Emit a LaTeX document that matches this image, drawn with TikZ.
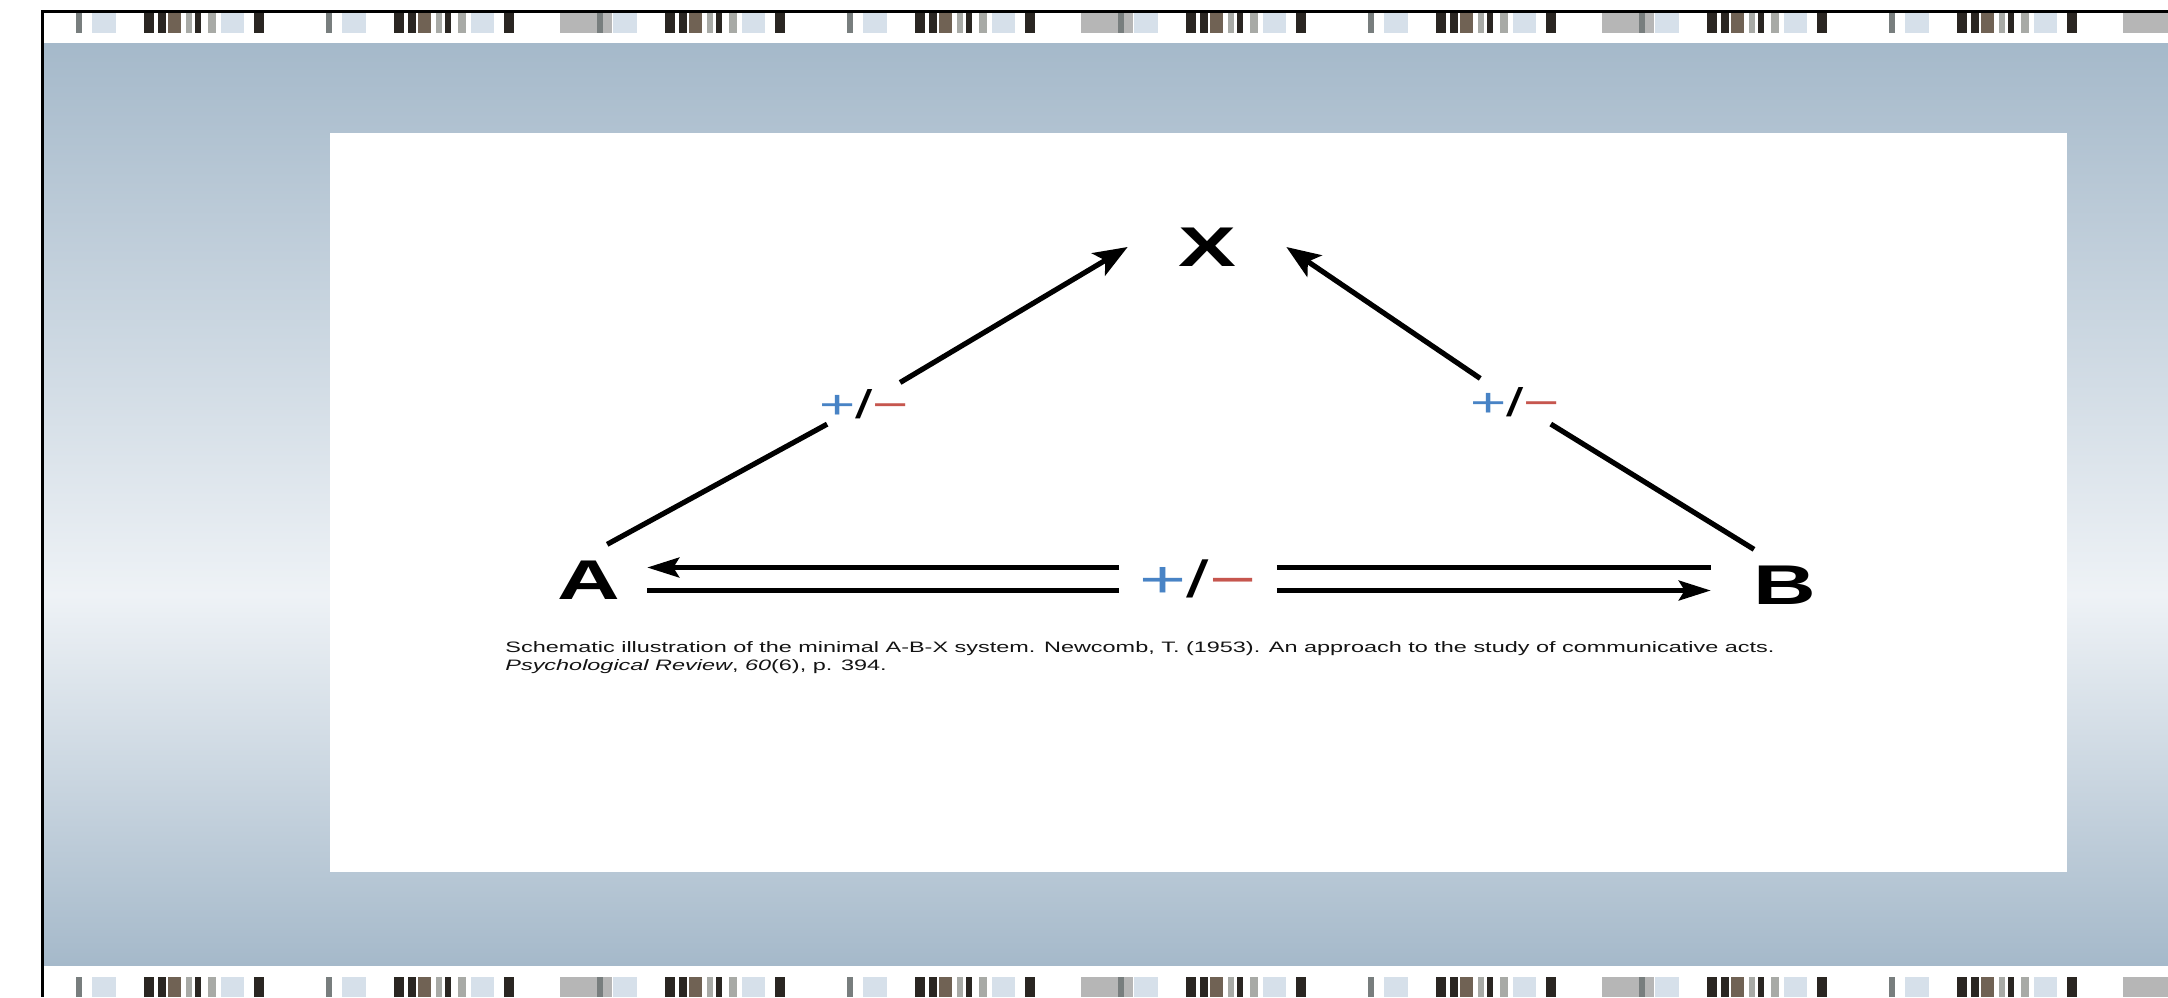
\documentclass[tikz,border=0pt]{standalone}
\usepackage{fontspec}
\setmainfont{Liberation Sans}
\usepackage{graphicx}
\usetikzlibrary{arrows.meta}
\usetikzlibrary{positioning}
\definecolor{panelblue}  {RGB}{165,185,202}
\definecolor{panelglow}  {RGB}{238,242,246}
\definecolor{signplus}   {RGB}{72,131,197}
\definecolor{signminus}  {RGB}{198,86,78}
\definecolor{captiongray}{RGB}{20,20,20}
\definecolor{barthin}    {RGB}{120,126,126}
\definecolor{barpale}    {RGB}{214,224,234}
\definecolor{bardark}    {RGB}{42,38,34}
\definecolor{barbrown}   {RGB}{112,98,84}
\definecolor{barsilver}  {RGB}{168,170,166}
\definecolor{barblock}   {RGB}{182,182,182}
\newcommand{\stretched}[1]{\scalebox{1.55}[1]{#1}}
\newcommand{\plusminus}{\textcolor{signplus}{+}/\textcolor{signminus}{−}}
\tikzset{agent/.style={
    font=\fontsize{28pt}{30pt}\selectfont\bfseries,
    inner ysep=8pt
}}
\tikzset{sign/.style={
    circle, inner sep=0pt, outer sep=-2.5pt,
    font=\fontsize{20pt}{22pt}\selectfont
}}
\tikzset{mutual sign/.style={
    rectangle, inner sep=0pt,
    minimum width=78.5pt,
    font=\fontsize{26pt}{28pt}\selectfont
}}
\tikzset{caption text/.style={
    inner sep=0pt, text=captiongray,
    font=\fontsize{7.56pt}{9pt}\selectfont
}}
\tikzset{slant link/.style={
    line width=2.6pt
}}
\tikzset{flat link/.style={
    line width=2.1pt
}}
\tikzset{slant tip/.style={-{Stealth[length=17pt,width=13pt,inset=4pt]}}}
\tikzset{flat tip/.style={-{Stealth[length=16pt,width=10pt,inset=3pt]}}}

\begin{document}
\begin{tikzpicture}[x=0.5pt, y=-0.5pt]
    \useasboundingbox (0,0) rectangle (2168,997);

    % backdrop
    \shade [top color=panelblue, bottom color=panelglow] (44,43) rectangle (2168,595);
    \shade [top color=panelglow, bottom color=panelblue] (44,595) rectangle (2168,965);
    \fill [white] (330,133) rectangle (2067,872);
    \draw [line width=1.5pt] (2168,11.5) -- (42.5,11.5) -- (42.5,997);

    % film strips
    \foreach \ya/\yb in {13/33,977/997}
      \foreach \s in {0,...,3} {
        \foreach \u in {0,250} {
          \begin{scope}[shift={(76+521*\s+\u,0)}]
            \fill [barthin]   (0,\ya)   rectangle (6,\yb);
            \fill [barpale]   (16,\ya)  rectangle (40,\yb);
            \fill [bardark]   (68,\ya)  rectangle (78,\yb);
            \fill [bardark]   (82,\ya)  rectangle (90,\yb);
            \fill [barbrown]  (92,\ya)  rectangle (105,\yb);
            \fill [barsilver] (110,\ya) rectangle (116,\yb);
            \fill [bardark]   (119,\ya) rectangle (125,\yb);
            \fill [barsilver] (132,\ya) rectangle (140,\yb);
            \fill [barpale]   (145,\ya) rectangle (168,\yb);
            \fill [bardark]   (178,\ya) rectangle (188,\yb);
          \end{scope}
        }
        \fill [barblock] (76+521*\s+484,\ya) rectangle (76+521*\s+536,\yb);
      }

    \node (X)  [agent, inner xsep=25pt]   at (1207,247) {\stretched{X}};
    \node (A)  [agent, inner xsep=13.3pt] at (589,580)  {\stretched{A}};
    \node (B)  [agent, inner xsep=21.3pt] at (1785,585) {\stretched{B}};

    \node (ax) [sign]        at (864,404)  {\stretched{\plusminus}};
    \node (bx) [sign]        at (1515,402) {\stretched{\plusminus}};
    \node (ab) [mutual sign] at (1198,579) {\stretched{\plusminus}};

    \node (cap1) [caption text, anchor=base west] at (505,652)
      {\stretched{Schematic illustration of the minimal A-B-X system. Newcomb, T. (1953). An approach to the study of communicative acts.}};
    \node (cap2) [caption text, below right=2pt and 0pt of cap1.south west]
      {\stretched{\textit{Psychological Review}, \textit{60}(6), p. 394.}};

    % edges
    \path [slant link]
      (A.63)  edge (ax)
      (ax)    edge [slant tip] (X.west)
      (B.131) edge (bx)
      (bx)    edge [slant tip] (X.east)
      ;
    \draw [flat link, flat tip] ([yshift=5.75pt]ab.west)  -- ([yshift=5.75pt]ab.west -| A.east);
    \draw [flat link]           ([yshift=-5.75pt]ab.west) -- ([yshift=-5.75pt]ab.west -| A.east);
    \draw [flat link]           ([yshift=5.75pt]ab.east)  -- ([yshift=5.75pt]ab.east -| B.west);
    \draw [flat link, flat tip] ([yshift=-5.75pt]ab.east) -- ([yshift=-5.75pt]ab.east -| B.west);
\end{tikzpicture}
\end{document}
